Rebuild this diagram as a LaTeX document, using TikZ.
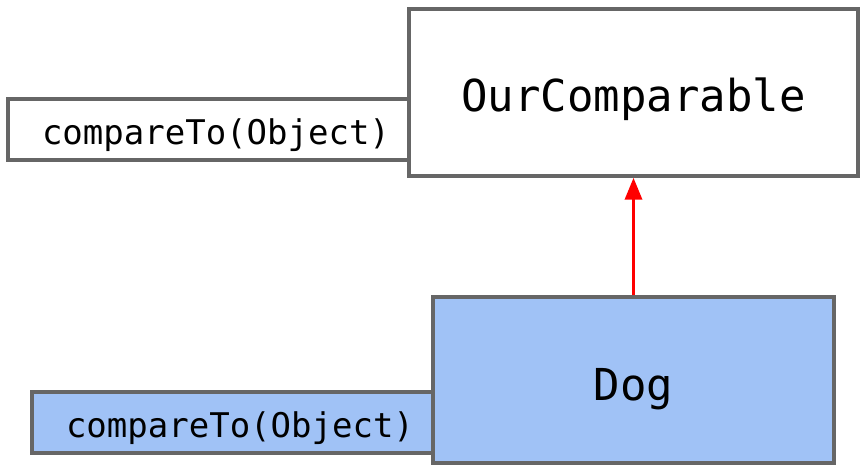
\documentclass[tikz,border=0pt]{standalone}
\usepackage{fontspec}
\setmonofont{DejaVu Sans Mono}
\usetikzlibrary{arrows.meta}
\definecolor{edge}{HTML}{666666}
\definecolor{dogblue}{HTML}{A0C2F6}
\tikzset{
  box/.style={draw=edge, line width=3.5pt, rectangle, inner sep=0pt, font=\ttfamily},
  methodbox/.style={box, minimum width=401pt, minimum height=61pt, text depth=0pt, font=\ttfamily\fontsize{34}{40}\selectfont},
  classbox/.style={box, text depth=0pt, font=\ttfamily\fontsize{44}{50}\selectfont},
  inherit/.style={draw=red, line width=3.5pt, -{Triangle[width=17pt,length=22pt]}}
}
\begin{document}
\begin{tikzpicture}[x=1pt,y=-1pt]
\useasboundingbox (0,0) rectangle (866,470);
\node[methodbox, fill=white, text height=31pt] (m1) at (208.5,129.5) {\hspace{15pt}compareTo(Object)};
\node[classbox, fill=white, text height=39pt, minimum width=449pt, minimum height=167pt] (oc) at (633.5,92.5) {OurComparable};
\node[methodbox, fill=dogblue, text height=30pt] (m2) at (232.5,422.5) {\hspace{15pt}compareTo(Object)};
\node[classbox, fill=dogblue, text height=40pt, minimum width=401pt, minimum height=166pt] (dog) at (633.5,380) {Dog};
\draw[inherit] (dog.north) -- (oc.south);
\end{tikzpicture}
\end{document}
